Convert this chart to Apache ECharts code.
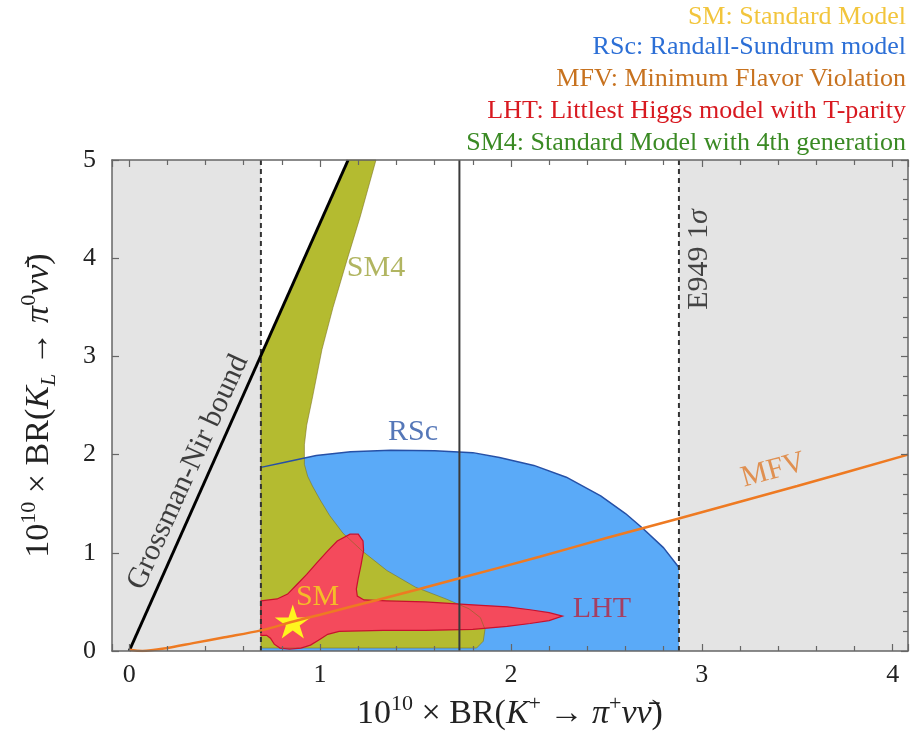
<!DOCTYPE html>
<html><head><meta charset="utf-8">
<script src="https://cdn.jsdelivr.net/npm/echarts@6/dist/echarts.min.js"></script>
<style>html,body{margin:0;padding:0;background:#fff}#c{width:912px;height:731px}</style>
</head><body><div id="c"></div>
<script>
// ---------- data ----------
const xTickLabels = ['0', '1', '2', '3', '4'];
const yTickLabels = ['0', '1', '2', '3', '4', '5'];
const xMin = -0.09, xMax = 4.08, yMin = 0, yMax = 5;
const e949Low = 0.69, e949Central = 1.73, e949High = 2.88;

const grossmanNir = [[0, 0], [1.147, 5]];
const smPoint = [[0.857, 0.30]];

const rscRegion = [[0.69, 0], [0.69, 1.87], [0.81, 1.92], [0.98, 1.99], [1.16, 2.03], [1.37, 2.045],
  [1.6, 2.04], [1.8, 2.02], [1.94, 1.97], [2.12, 1.89], [2.29, 1.77], [2.47, 1.58], [2.6, 1.4],
  [2.69, 1.25], [2.8, 1.05], [2.88, 0.85], [2.88, 0]];
const rscEdge = rscRegion.slice(1, rscRegion.length - 1);

const sm4Region = [[1.147, 5], [1.293, 5], [1.25, 4.7], [1.21, 4.42], [1.141, 3.98], [1.068, 3.5],
  [1.01, 3.07], [0.958, 2.56], [0.93, 2.3], [0.918, 2.1], [0.918, 1.9], [0.935, 1.78], [0.96, 1.68],
  [1.0, 1.54], [1.05, 1.38], [1.12, 1.2], [1.22, 1.02], [1.35, 0.82], [1.5, 0.65], [1.66, 0.53],
  [1.78, 0.43], [1.84, 0.34], [1.864, 0.22], [1.855, 0.1], [1.82, 0.03], [0.69, 0.03], [0.69, 3.01]];

const lhtRegion = [[0.69, 0.51], [0.775, 0.53], [0.83, 0.58], [0.88, 0.68], [0.93, 0.78], [0.984, 0.9],
  [1.04, 1.02], [1.09, 1.12], [1.157, 1.19], [1.2, 1.19], [1.225, 1.12], [1.228, 1.02], [1.215, 0.88],
  [1.2, 0.74], [1.19, 0.63], [1.195, 0.56], [1.23, 0.52], [1.35, 0.51], [1.55, 0.5], [1.8, 0.47],
  [1.98, 0.45], [2.1, 0.42], [2.2, 0.39], [2.27, 0.355], [2.2, 0.31], [2.1, 0.28], [1.98, 0.25],
  [1.8, 0.22], [1.55, 0.21], [1.33, 0.21], [1.1, 0.2], [1.04, 0.17], [1.0, 0.12], [0.95, 0.06],
  [0.9, 0.03], [0.84, 0.02], [0.79, 0.03], [0.76, 0.07], [0.74, 0.13], [0.72, 0.16], [0.69, 0.16]];

const mfvCurve = [[0, 0.012], [0.07, 0.0], [0.2, 0.03], [0.335, 0.08], [0.5, 0.14], [0.69, 0.21],
  [0.86, 0.3], [1.0, 0.37], [1.3, 0.52], [1.73, 0.74], [2.15, 0.96], [2.5, 1.15], [2.88, 1.35],
  [3.5, 1.68], [4.08, 2.0]];

const legendTexts = ['SM: Standard Model', 'RSc: Randall-Sundrum model', 'MFV: Minimum Flavor Violation',
  'LHT: Littlest Higgs model with T-parity', 'SM4: Standard Model with 4th generation'];

const labelTexts = ['SM4', 'RSc', 'LHT', 'SM', 'MFV', 'Grossman-Nir bound', '{u|E949 1}{s|σ}'];
const labelAnchors = [[1.293, 3.90], [1.487, 2.225], [2.476, 0.428], [0.987, 0.55], [3.374, 1.838], [0.309, 1.82], [2.984, 3.987]];

// ---------- styles ----------
const SERIF = '"Liberation Serif", "Times New Roman", Times, serif';
const legendColors = ['#f2c53c', '#2c6fd6', '#c7721f', '#d81920', '#3a8a24'];
const legendTops = [4, 34, 66, 98, 130];
const labelColors = ['#9da23a', '#2b55a6', '#b8243c', '#f5d81c', '#df7a2c', '#111111', '#1a1a1a'];
const labelRot = [0, 0, 0, 0, 15.5, 65.5, 90];

function polygonSeries(pts, fill, stroke, lw) {
  return {
    type: 'custom', silent: true, coordinateSystem: 'cartesian2d',
    data: pts, encode: {x: 0, y: 1},
    renderItem: function (params, api) {
      if (params.dataIndex !== 0) return null;
      return {
        type: 'polygon',
        shape: {points: pts.map(function (p) { return api.coord(p); })},
        style: {fill: fill, stroke: stroke, lineWidth: lw}
      };
    }
  };
}
function lineSeries(pts, color, width, type, smooth) {
  return {
    type: 'line', silent: true, data: pts, showSymbol: false, smooth: smooth || false,
    lineStyle: {color: color, width: width, type: type || 'solid'}
  };
}

const grayLeft = [[xMin, yMin], [e949Low, yMin], [e949Low, yMax], [xMin, yMax]];
const grayRight = [[e949High, yMin], [xMax, yMin], [xMax, yMax], [e949High, yMax]];

const series = [
  polygonSeries(grayLeft, '#e4e4e4', 'none', 0),
  polygonSeries(grayRight, '#e4e4e4', 'none', 0),
  polygonSeries(rscRegion, '#5aaaf8', 'none', 0),
  polygonSeries(sm4Region, '#b4bb30', 'none', 0),
  polygonSeries(lhtRegion, '#f44a5c', 'none', 0),
  polygonSeries(sm4Region, 'none', 'rgba(120,110,30,0.55)', 1),
  lineSeries(rscEdge, '#2650a6', 1.5),
  polygonSeries(lhtRegion, 'none', '#c8102e', 1.2),
  lineSeries([[e949Low, yMin], [e949Low, yMax]], '#333', 2, [5, 4]),
  lineSeries([[e949High, yMin], [e949High, yMax]], '#333', 2, [5, 4]),
  lineSeries([[e949Central, yMin], [e949Central, yMax]], '#3a3a3a', 2),
  lineSeries(grossmanNir, '#000', 3),
  lineSeries(mfvCurve, '#ee7a22', 2.5, 'solid', 0.3),
  {
    type: 'scatter', silent: true, data: smPoint,
    symbol: 'path://M50,0 L61.2,34.5 L97.6,34.5 L68.2,55.9 L79.4,90.5 L50,69.1 L20.6,90.5 L31.8,55.9 L2.4,34.5 L38.8,34.5 Z',
    symbolSize: [36, 34], itemStyle: {color: '#fff51e', opacity: 1}
  },
  {
    type: 'scatter', silent: true, symbolSize: 0,
    data: labelAnchors.map(function (p, i) {
      return {
        value: p,
        label: {
          show: true, position: 'inside', formatter: labelTexts[i], rotate: labelRot[i],
          color: labelColors[i], fontFamily: SERIF, fontSize: 30,
          rich: {
            u: {color: labelColors[i], fontFamily: SERIF, fontSize: 30},
            s: {color: labelColors[i], fontFamily: SERIF, fontSize: 30, fontStyle: 'italic'}
          }
        }
      };
    })
  }
];

function isInt(v) { return Math.abs(v - Math.round(v)) < 1e-6; }
const tickColor = '#666';
const nameRich = {
  n: {fontFamily: SERIF, fontSize: 34, color: '#222', lineHeight: 42},
  i: {fontFamily: SERIF, fontSize: 34, color: '#222', fontStyle: 'italic', lineHeight: 42},
  sup: {fontFamily: SERIF, fontSize: 22, color: '#222', verticalAlign: 'top', lineHeight: 19},
  sub: {fontFamily: SERIF, fontSize: 22, color: '#222', fontStyle: 'italic', verticalAlign: 'bottom', lineHeight: 19}
};

const chart = echarts.init(document.getElementById('c'), null, {renderer: 'canvas'});
chart.setOption({
  animation: false,
  backgroundColor: '#fff',
  textStyle: {fontFamily: SERIF},
  grid: {left: 112, right: 4, top: 160, bottom: 80, containLabel: false, outerBoundsMode: 'none'},
  xAxis: [{
    type: 'value', min: xMin, max: xMax, minInterval: 1, maxInterval: 1, position: 'bottom', z: 10,
    axisLine: {show: true, onZero: false, lineStyle: {color: tickColor, width: 1.5}},
    axisTick: {show: true, inside: true, length: 7, lineStyle: {color: tickColor, width: 1.2}},
    minorTick: {show: true, splitNumber: 5, length: 5, lineStyle: {color: tickColor, width: 1.2}},
    splitLine: {show: false},
    axisLabel: {
      margin: 11, fontFamily: SERIF, fontSize: 26, color: '#222',
      formatter: function (v) { return isInt(v) && v >= 0 ? xTickLabels[Math.round(v)] : ''; }
    },
    name: '{n|10}{sup|10}{n| × BR(}{i|K}{sup|+}{n| → }{i|π}{sup|+}{i|νν̄}{n|)}',
    nameLocation: 'middle', nameGap: 40, nameTextStyle: {rich: nameRich}
  }, {
    type: 'value', min: xMin, max: xMax, minInterval: 1, maxInterval: 1, position: 'top', z: 10,
    axisLine: {show: true, onZero: false, lineStyle: {color: tickColor, width: 1.5}},
    axisTick: {show: true, inside: true, length: 7, lineStyle: {color: tickColor, width: 1.2}},
    minorTick: {show: true, splitNumber: 5, length: 5, lineStyle: {color: tickColor, width: 1.2}},
    splitLine: {show: false}, axisLabel: {show: false}
  }],
  yAxis: [{
    type: 'value', min: yMin, max: yMax, interval: 1, position: 'left', z: 10,
    axisLine: {show: true, onZero: false, lineStyle: {color: tickColor, width: 1.5}},
    axisTick: {show: true, inside: true, length: 7, lineStyle: {color: tickColor, width: 1.2}},
    splitLine: {show: false},
    axisLabel: {margin: 16, fontFamily: SERIF, fontSize: 26, color: '#222',
      formatter: function (v) { return yTickLabels[Math.round(v)]; }},
    name: '{n|10}{sup|10}{n| × BR(}{i|K}{sub|L}{n| → }{i|π}{sup|0}{i|νν̄}{n|)}',
    nameLocation: 'middle', nameGap: 52, nameRotate: 90, nameTextStyle: {rich: nameRich}
  }, {
    type: 'value', min: yMin, max: yMax, interval: 1, position: 'right', z: 10,
    axisLine: {show: true, onZero: false, lineStyle: {color: tickColor, width: 1.5}},
    axisTick: {show: true, inside: true, length: 7, lineStyle: {color: tickColor, width: 1.2}},
    minorTick: {show: true, splitNumber: 5, length: 5, lineStyle: {color: tickColor, width: 1.2}},
    splitLine: {show: false}, axisLabel: {show: false}
  }],
  graphic: legendTexts.map(function (t, i) {
    return {type: 'text', right: 6, top: legendTops[i], silent: true,
      style: {text: t, fill: legendColors[i], font: '26px "Liberation Serif", "Times New Roman", serif'}};
  }),
  series: series
});
</script></body></html>
